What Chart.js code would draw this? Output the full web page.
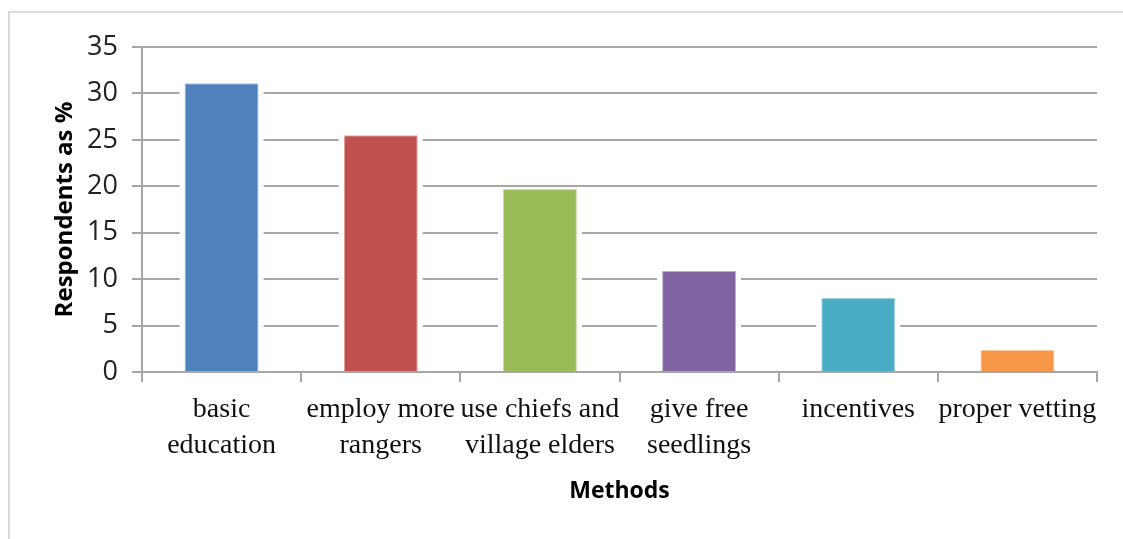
<!DOCTYPE html>
<html>
<head>
<meta charset="utf-8">
<script src="https://cdn.jsdelivr.net/npm/chart.js@4/dist/chart.umd.min.js"></script>
<style>
    html, body { margin: 0; padding: 0; background: #fff; overflow: hidden; }
    #frame {
        position: absolute; left: 8px; top: 11px; width: 1200px; height: 600px;
        border-top: 2px solid #dadada; border-left: 2px solid #dadada;
    }
    #wrap { position: absolute; left: 0; top: 0; width: 1123px; height: 539px; }
</style>
</head>
<body>
<div id="frame"></div>
<div id="wrap"><canvas id="methodsChart" width="1123" height="539"></canvas></div>
<script>
//------------Chart Data-----------------
const methods = [
    ['basic', 'education'],
    ['employ more', 'rangers'],
    ['use chiefs and', 'village elders'],
    ['give free', 'seedlings'],
    'incentives',
    'proper vetting'
];
const respondents = [31.1, 25.5, 19.7, 10.9, 8.0, 2.4];
const barColors = ['#4f81bd', '#c0504d', '#9bbb59', '#8064a2', '#4bacc6', '#f79646'];
const barEdges = ['#a7c0e0', '#e0a8a6', '#cde0ad', '#bfb2d1', '#a5d6e3', '#fbcaa2'];
const yTicks = [0, 5, 10, 15, 20, 25, 30, 35];

const lineGrey = '#a6a6a6';

// white strip around each bar so the grid lines stop short of it
const barGap = {
    id: 'barGap',
    beforeDatasetsDraw(chart) {
        const ctx = chart.ctx;
        ctx.save();
        ctx.fillStyle = '#ffffff';
        chart.getDatasetMeta(0).data.forEach(bar => {
            const p = bar.getProps(['x', 'y', 'base', 'width'], true);
            ctx.fillRect(p.x - p.width / 2 - 5, p.y - 1, p.width + 10, p.base - p.y - 1);
        });
        ctx.restore();
    }
};

const ctx = document.getElementById('methodsChart').getContext('2d');

new Chart(ctx, {
    type: 'bar',
    data: {
        labels: methods,
        datasets: [{
            data: respondents,
            backgroundColor: barColors,
            borderColor: barEdges,
            borderWidth: 1,
            categoryPercentage: 1,
            barPercentage: 0.465
        }]
    },
    options: {
        responsive: false,
        animation: false,
        layout: {
            padding: { top: 47, right: 26, bottom: 34, left: 45 }
        },
        plugins: {
            legend: { display: false },
            tooltip: { enabled: false }
        },
        scales: {
            y: {
                min: 0,
                max: 35,
                afterBuildTicks: scale => {
                    scale.ticks = yTicks.map(v => ({ value: v }));
                },
                afterFit: scale => { scale.width = 97; },
                grid: {
                    color: lineGrey,
                    lineWidth: 2,
                    tickLength: 10
                },
                border: { display: true, color: lineGrey, width: 2 },
                ticks: {
                    color: '#222',
                    padding: 14,
                    font: { family: 'Open Sans', size: 27 }
                },
                title: {
                    display: true,
                    text: 'Respondents as %',
                    color: '#000',
                    padding: { top: 6, bottom: 0 },
                    font: { family: 'Open Sans', size: 24, weight: 'bold' }
                }
            },
            x: {
                afterFit: scale => { scale.height = 133; },
                grid: {
                    color: lineGrey,
                    lineWidth: 2,
                    tickLength: 10,
                    drawOnChartArea: false
                },
                border: { display: true, color: lineGrey, width: 2 },
                ticks: {
                    color: '#111',
                    padding: 10,
                    maxRotation: 0,
                    autoSkip: false,
                    font: { family: 'Liberation Serif', size: 28, lineHeight: 1.28 }
                },
                title: {
                    display: true,
                    text: 'Methods',
                    color: '#000',
                    padding: { top: 14, bottom: 0 },
                    font: { family: 'Open Sans', size: 23, weight: 'bold' }
                }
            }
        }
    },
    plugins: [barGap]
});
</script>
</body>
</html>
